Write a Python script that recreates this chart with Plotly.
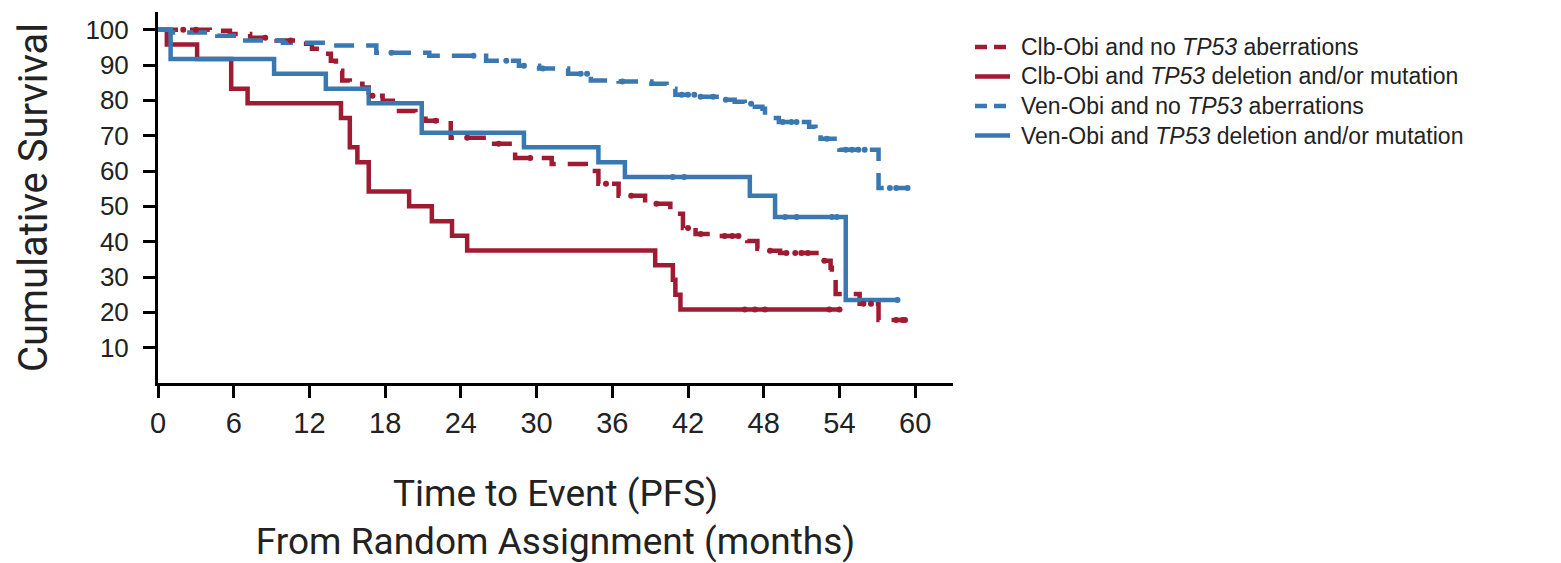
import numpy as np
import plotly.graph_objects as go

# ---------------- data ----------------
# Clb-Obi and no TP53 aberrations (red dashed)
clb_no_t = [0, 4.1, 5.7, 7.3, 9.4, 11.0, 12.2, 13.0, 13.7, 14.1, 14.6, 15.2, 16.2, 16.7, 17.8, 19.1,
            20.4, 21.2, 23.2, 26.0, 28.3, 31.2, 33.9, 34.9, 36.5, 38.6, 40.6, 41.6, 42.6, 44.4, 46.7,
            47.5, 48.3, 49.3, 52.4, 53.3, 53.4, 53.7, 55.6, 57.1, 59.2]
clb_no_s = [100, 99.7, 98.8, 97.7, 96.9, 96.0, 94.6, 93.2, 91.2, 88.4, 85.6, 84.7, 83.6, 81.3, 79.9, 77.0,
            74.8, 74.2, 69.4, 67.7, 63.7, 62.0, 60.0, 56.4, 53.0, 50.7, 47.9, 43.9, 42.2, 41.6, 40.2,
            38.0, 37.4, 36.8, 34.6, 32.6, 30.3, 25.2, 22.4, 17.8, 17.8]
clb_no_cens = [2.0, 3.0, 8.5, 10.5, 17.0, 22.0, 24.5, 27.0, 29.5, 35.5, 37.5, 39.5, 42.0, 43.0, 44.9,
               45.5, 46.0, 48.5, 49.8, 50.5, 51.0, 51.5, 52.8, 55.9, 56.5, 58.5, 59.0, 59.2]

# Clb-Obi and TP53 deletion and/or mutation (red solid)
clb_tp_t = [0, 0.7, 3.1, 5.8, 7.1, 14.5, 15.2, 15.8, 16.7, 19.9, 21.7, 23.3, 24.5, 39.4, 40.8, 41.0,
            41.4, 54.0]
clb_tp_s = [100, 95.8, 91.7, 83.3, 79.2, 75.0, 66.7, 62.5, 54.2, 50.0, 45.8, 41.7, 37.5, 33.3, 29.2,
            25.0, 20.8, 20.8]
clb_tp_cens = [46.5, 47.3, 48.1, 53.2, 54.0]

# Ven-Obi and no TP53 aberrations (blue dashed)
ven_no_t = [0, 1.0, 4.7, 6.2, 9.9, 13.8, 17.3, 21.5, 26.0, 28.6, 30.2, 32.5, 34.3, 36.5, 39.1, 40.3,
            41.0, 42.8, 44.6, 45.7, 46.5, 47.3, 47.9, 48.1, 49.2, 51.6, 52.1, 52.5, 54.0, 57.1, 59.4]
ven_no_s = [100, 99.2, 98.3, 96.9, 96.3, 95.5, 93.5, 92.6, 91.2, 89.8, 89.0, 87.5, 85.6, 85.3, 84.7,
            83.3, 81.6, 81.0, 80.2, 79.6, 79.0, 78.2, 77.6, 75.0, 73.9, 72.5, 70.8, 69.1, 66.0, 55.2, 55.2]
ven_no_cens = [18.5, 25.0, 27.6, 29.0, 30.5, 33.5, 34.0, 36.8, 41.5, 42.0, 42.5, 43.0, 44.0, 45.0,
               47.0, 49.5, 50.2, 50.6, 53.0, 54.5, 55.0, 55.5, 56.0, 58.0, 58.5, 59.4]

# Ven-Obi and TP53 deletion and/or mutation (blue solid)
ven_tp_t = [0, 1.0, 9.2, 13.3, 16.7, 20.9, 29.0, 34.9, 37.0, 46.9, 48.9, 54.5, 58.6]
ven_tp_s = [100, 91.7, 87.5, 83.3, 79.2, 70.8, 66.7, 62.5, 58.3, 53.0, 47.0, 23.5, 23.5]
ven_tp_cens = [40.8, 41.7, 49.7, 50.6, 53.4, 53.8, 58.6]

names = ["Clb-Obi and no <i>TP53</i> aberrations",
         "Clb-Obi and <i>TP53</i> deletion and/or mutation",
         "Ven-Obi and no <i>TP53</i> aberrations",
         "Ven-Obi and <i>TP53</i> deletion and/or mutation"]

x_ticks = [0, 6, 12, 18, 24, 30, 36, 42, 48, 54, 60]
y_ticks = [10, 20, 30, 40, 50, 60, 70, 80, 90, 100]

RED = "#9E1B32"
BLUE = "#3A78B2"
DASH = "20px,12px"

series = [
    (clb_no_t, clb_no_s, clb_no_cens, RED, DASH),
    (clb_tp_t, clb_tp_s, clb_tp_cens, RED, "solid"),
    (ven_no_t, ven_no_s, ven_no_cens, BLUE, DASH),
    (ven_tp_t, ven_tp_s, ven_tp_cens, BLUE, "solid"),
]


def step_value(ts, ss, t):
    idx = np.searchsorted(np.asarray(ts), t, side="right") - 1
    return float(np.asarray(ss)[max(idx, 0)])


fig = go.Figure()
for (t, s, cens, col, dash), nm in zip(series, names):
    fig.add_trace(go.Scatter(x=t, y=s, mode="lines", line=dict(color=col, width=4.5, dash=dash, shape="hv"),
                             name=nm, showlegend=False))
for (t, s, cens, col, dash), nm in zip(series, names):
    fig.add_trace(go.Scatter(x=cens, y=[step_value(t, s, c) for c in cens], mode="markers",
                             marker=dict(color=col, size=6, symbol="circle"),
                             showlegend=False, hoverinfo="skip"))

TITLE_FONT = "Roboto, Arial, sans-serif"
TICK_FONT = "Liberation Sans, Arial, sans-serif"
TEXT_COL = "#222"

# ---- layout geometry (pixels) ----
W, H = 1561, 563
ML, MR, MT, MB = 158, 608, 12, 180
PW, PH = W - ML - MR, H - MT - MB


def px_x(px):
    return (px - ML) / PW


def px_y(py):
    return (H - MB - py) / PH


# legend drawn as layout decoration (icon line + text)
shapes = []
annotations = []
for i, ((t, s, cens, col, dash), nm) in enumerate(zip(series, names)):
    row_y = 47 + 29.5 * i
    shapes.append(dict(type="line", xref="paper", yref="paper",
                       x0=px_x(975), x1=px_x(1010), y0=px_y(row_y), y1=px_y(row_y),
                       line=dict(color=col, width=4.5, dash="12px,7px" if dash != "solid" else "solid")))
    annotations.append(dict(xref="paper", yref="paper", x=px_x(1019), y=px_y(row_y),
                            xanchor="left", yanchor="middle", text=nm, showarrow=False,
                            font=dict(family=TICK_FONT, size=23, color=TEXT_COL)))

fig.update_layout(
    width=W, height=H,
    margin=dict(l=ML, r=MR, t=MT, b=MB, autoexpand=False),
    paper_bgcolor="white", plot_bgcolor="white",
    showlegend=False,
    shapes=shapes, annotations=annotations,
)
fig.update_xaxes(
    range=[0, 63], tickvals=x_ticks, ticktext=[str(v) for v in x_ticks],
    showline=True, linewidth=3, linecolor="black", mirror=False, automargin=False,
    ticks="outside", ticklen=12, tickwidth=2.5, tickcolor="black",
    showgrid=False, zeroline=False,
    tickfont=dict(family=TICK_FONT, size=29, color=TEXT_COL),
    title=dict(text="Time to Event (PFS)<br>From Random Assignment (months)",
               font=dict(family=TITLE_FONT, size=37, color=TEXT_COL), standoff=61),
)
fig.update_yaxes(
    range=[0, 105], tickvals=y_ticks, ticktext=[str(v) for v in y_ticks],
    showline=True, linewidth=3, linecolor="black", automargin=False,
    ticks="outside", ticklen=12, tickwidth=2.5, tickcolor="black",
    showgrid=False, zeroline=False, ticklabelstandoff=9,
    tickfont=dict(family=TICK_FONT, size=26, color=TEXT_COL),
    title=dict(text="Cumulative Survival", font=dict(family=TITLE_FONT, size=40, color=TEXT_COL), standoff=26),
)

fig.write_html("out.html")
